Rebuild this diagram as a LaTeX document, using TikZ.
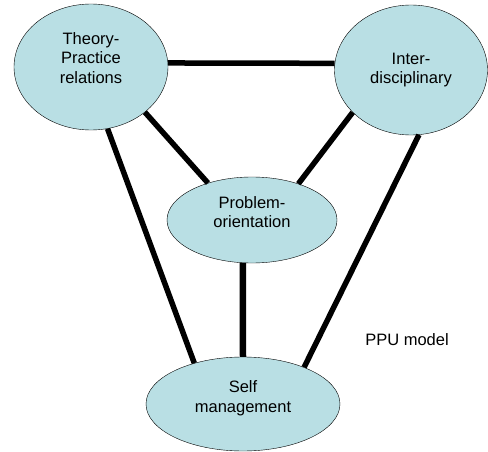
\documentclass[tikz,border=0pt]{standalone}
\usepackage{fontspec}
\setmainfont{Liberation Sans}
\usetikzlibrary{shapes.geometric}

\begin{document}
\begin{tikzpicture}[x=1pt,y=-1pt,
		idea/.style={ellipse, draw, thin, fill=ppucyan, inner sep=0pt, align=center, font=\fontsize{16.5}{19.5}\selectfont},
		link/.style={line width=5.5pt}]
		\definecolor{ppucyan}{RGB}{185,223,228}
		\useasboundingbox (0,0) rectangle (488,452);
		% Draw ellipses
		\node[idea, minimum width=154pt, minimum height=126pt, text depth=18pt] (theory) at (91,67) {Theory-\\Practice\\relations};
		\node[idea, minimum width=153pt, minimum height=130pt] (inter) at (411,70) {Inter-\\disciplinary};
		\node[idea, minimum width=170pt, minimum height=86pt, text depth=16pt] (problem) at (252,220) {Problem-\\orientation};
		\node[idea, minimum width=194pt, minimum height=94pt, text depth=15pt] (self) at (243,404) {Self\\management};
		% Draw links
		\draw[link] (theory.3) -- (inter.175);
		\draw[link] (theory.-40) -- (problem.140);
		\draw[link] (inter.216) -- (problem.38);
		\draw[link] (theory.-75) -- (self.140);
		\draw[link] (inter.-83) -- (self.31);
		\draw[link, line width=6.5pt] (problem.-102) -- (self.north);
		% Label model
		\node[font=\fontsize{16.5}{19.5}\selectfont] (ppu) at (407,340) {PPU model};
	\end{tikzpicture}
\end{document}
